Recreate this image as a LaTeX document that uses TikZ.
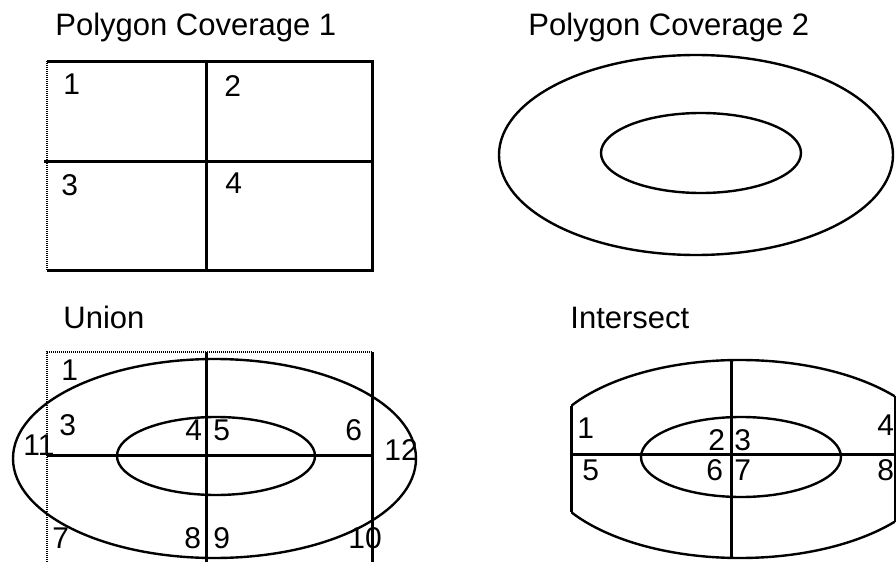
\documentclass[tikz,border=0pt]{standalone}
\usepackage{fontspec}
\setmainfont{Liberation Sans}

\begin{document}
\begin{tikzpicture}[x=0.5pt,y=-0.5pt,
    edge/.style={line width=1.5pt},
    ring/.style={line width=1.2pt},
    faint/.style={line width=1pt, dash pattern=on 0.5pt off 0.5pt},
    title/.style={anchor=base west, inner sep=0pt, font=\fontsize{15.5}{18}\selectfont},
    lbl/.style={anchor=base west, inner sep=0pt, font=\fontsize{15}{17}\selectfont}]
  \useasboundingbox (0,0) rectangle (896,562);
  % coverage 1
  \begin{scope}
    \node[title] (t1) at (55,35) {Polygon Coverage 1};
    \draw[edge] (47,270) -- (372,270) -- (372,61) -- (47,61);
    \draw[faint] (47,61) -- (47,270);
    \draw[edge] (206,61) -- (206,270);
    \draw[edge] (44,161) -- (372,161);
    \node[lbl] (a1) at (63,94) {1}; \node[lbl] (a2) at (224,97) {2};
    \node[lbl] (a3) at (61,195) {3}; \node[lbl] (a4) at (225,193) {4};
  \end{scope}
  % coverage 2
  \begin{scope}
    \node[title] (t2) at (528,35) {Polygon Coverage 2};
    \draw[ring] (696,155) ellipse (197 and 100);
    \draw[ring] (701,153) ellipse (100 and 40);
  \end{scope}
  % union
  \begin{scope}
    \node[title] (t3) at (63,328) {Union};
    \draw[faint] (372,352) -- (47,352) -- (47,562);
    \draw[edge] (372,352) -- (372,562);
    \draw[edge] (206,352) -- (206,562);
    \draw[edge] (47,455) -- (372,455);
    \draw[ring] (214.5,458.5) ellipse (201.5 and 99.5);
    \draw[ring] (216,456) ellipse (99 and 39);
    \node[lbl] (u1) at (61,380) {1};   \node[lbl] (u3) at (59,435) {3};
    \node[lbl] (u11) at (23,455) {11}; \node[lbl] (u4) at (185,440) {4};
    \node[lbl] (u5) at (213,440) {5};  \node[lbl] (u6) at (345,440) {6};
    \node[lbl] (u12) at (384,460) {12};
    \node[lbl] (u7) at (52,548) {7};   \node[lbl] (u8) at (184,548) {8};
    \node[lbl] (u9) at (213,548) {9};  \node[lbl] (u10) at (348,548) {10};
  \end{scope}
  % intersect
  \begin{scope}
    \node[title] (t4) at (570,328) {Intersect};
    \begin{scope}\clip (571,300) rectangle (895,562);
      \draw[ring] (740,459) ellipse (200 and 99);
    \end{scope}
    \draw[edge] (571,406) -- (571,512);
    \draw[line width=0.6pt] (895,396) -- (895,522);
    \draw[edge] (571,454) -- (895,454);
    \draw[edge] (731,360) -- (731,558);
    \draw[ring] (741,457) ellipse (100 and 40);
    \node[lbl] (i1) at (577,438) {1}; \node[lbl] (i2) at (708,450) {2};
    \node[lbl] (i3) at (734,450) {3}; \node[lbl] (i4) at (877,435) {4};
    \node[lbl] (i5) at (582,480) {5}; \node[lbl] (i6) at (706,480) {6};
    \node[lbl] (i7) at (734,480) {7}; \node[lbl] (i8) at (877,480) {8};
  \end{scope}
\end{tikzpicture}
\end{document}
